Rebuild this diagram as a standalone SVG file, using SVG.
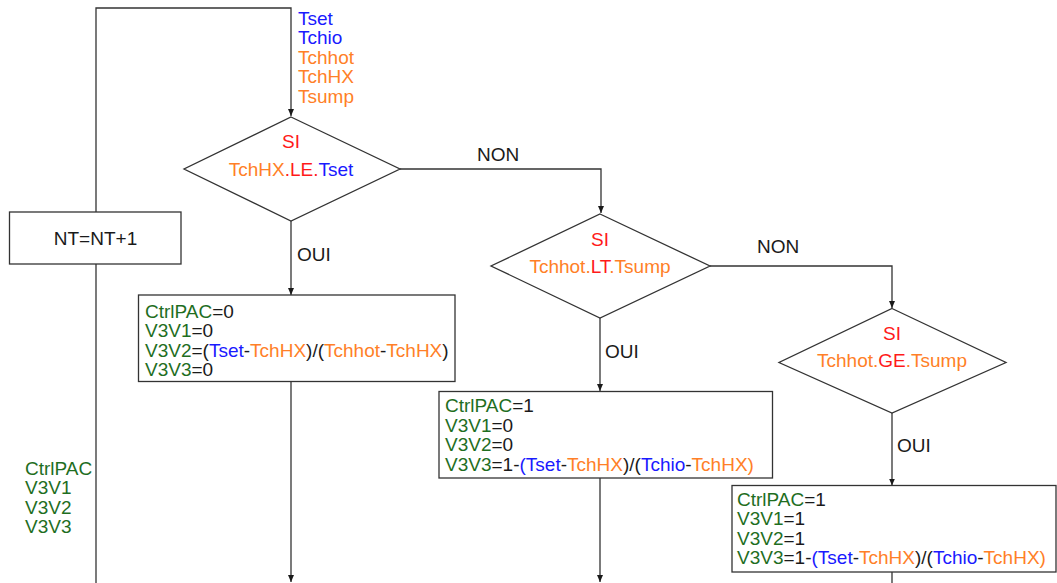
<svg xmlns="http://www.w3.org/2000/svg" width="1057" height="583" viewBox="0 0 1057 583">
<style>
text{font-family:"Liberation Sans",Arial,sans-serif;font-size:19px;fill:#1a1a1a}
.b{fill:#1a1aff}.o{fill:#ff7f27}.r{fill:#ff1a1a}.g{fill:#1f6e1f}.k{fill:#1a1a1a}
.shape{fill:#fff;stroke:#333;stroke-width:1.3}
.c{fill:none;stroke:#333;stroke-width:1.3}
</style>
<defs>
<marker id="ah" markerUnits="userSpaceOnUse" markerWidth="8" markerHeight="6" refX="7" refY="3" orient="auto"><path d="M0,0 L7,3 L0,6 z" fill="#1a1a1a"/></marker>
</defs>
<rect width="1057" height="583" fill="#fff"/>
<g id="connectors">
<path class="c" d="M96,583 V264"/>
<path class="c" d="M96,212 V8 H291 V116" marker-end="url(#ah)"/>
<path class="c" d="M400,169 H601 V213" marker-end="url(#ah)"/>
<path class="c" d="M291,221 V295" marker-end="url(#ah)"/>
<path class="c" d="M710,266 H892 V308" marker-end="url(#ah)"/>
<path class="c" d="M600,318 V391" marker-end="url(#ah)"/>
<path class="c" d="M892,413 V485.5" marker-end="url(#ah)"/>
<path class="c" d="M291,382 V582" marker-end="url(#ah)"/>
<path class="c" d="M600,478 V582" marker-end="url(#ah)"/>
<path class="c" d="M892,572 V583"/>
<text x="477" y="161" class="k">NON</text>
<text x="757" y="253" class="k">NON</text>
<text x="297" y="261" class="k">OUI</text>
<text x="605" y="358" class="k">OUI</text>
<text x="897" y="452" class="k">OUI</text>
</g>
<g id="inputs">
<text x="298" y="24.5" class="b">Tset</text>
<text x="298" y="44" class="b">Tchio</text>
<text x="298" y="63.5" class="o">Tchhot</text>
<text x="298" y="83" class="o">TchHX</text>
<text x="298" y="102.5" class="o">Tsump</text>
</g>
<g id="d1">
<polygon class="shape" points="291,117 400,169 291,221 184,169"/>
<text x="291" y="148" text-anchor="middle" class="r">SI</text>
<text x="291" y="176" text-anchor="middle"><tspan class="o">TchHX</tspan><tspan class="r">.LE.</tspan><tspan class="b">Tset</tspan></text>
</g>
<g id="d2">
<polygon class="shape" points="600,214 710,266 600,318 491,266"/>
<text x="600" y="246" text-anchor="middle" class="r">SI</text>
<text x="600" y="273" text-anchor="middle"><tspan class="o">Tchhot.</tspan><tspan class="r">LT</tspan><tspan class="o">.Tsump</tspan></text>
</g>
<g id="d3">
<polygon class="shape" points="892,308.5 1006,362.5 892,413 779,362.5"/>
<text x="892" y="340" text-anchor="middle" class="r">SI</text>
<text x="892" y="367" text-anchor="middle"><tspan class="o">Tchhot.</tspan><tspan class="r">GE</tspan><tspan class="o">.Tsump</tspan></text>
</g>
<g id="nt">
<rect class="shape" x="9.5" y="212" width="171.5" height="52"/>
<text x="95.5" y="244.5" text-anchor="middle" class="k">NT=NT+1</text>
</g>
<g id="box1">
<rect class="shape" x="138.5" y="295" width="316.5" height="86.5"/>
<text x="145" y="317.5"><tspan class="g">CtrlPAC</tspan><tspan class="k">=0</tspan></text>
<text x="145" y="337"><tspan class="g">V3V1</tspan><tspan class="k">=0</tspan></text>
<text x="145" y="356.5"><tspan class="g">V3V2</tspan><tspan class="k">=(</tspan><tspan class="b">Tset</tspan><tspan class="k">-</tspan><tspan class="o">TchHX</tspan><tspan class="k">)/(</tspan><tspan class="o">Tchhot</tspan><tspan class="k">-</tspan><tspan class="o">TchHX</tspan><tspan class="k">)</tspan></text>
<text x="145" y="376"><tspan class="g">V3V3</tspan><tspan class="k">=0</tspan></text>
</g>
<g id="box2">
<rect class="shape" x="439" y="391.5" width="333.5" height="86.5"/>
<text x="445" y="412"><tspan class="g">CtrlPAC</tspan><tspan class="k">=1</tspan></text>
<text x="445" y="431.5"><tspan class="g">V3V1</tspan><tspan class="k">=0</tspan></text>
<text x="445" y="451"><tspan class="g">V3V2</tspan><tspan class="k">=0</tspan></text>
<text x="445" y="470.5"><tspan class="g">V3V3</tspan><tspan class="k">=1-</tspan><tspan class="b">(Tset</tspan><tspan class="k">-</tspan><tspan class="o">TchHX</tspan><tspan class="k">)/(</tspan><tspan class="b">Tchio</tspan><tspan class="k">-</tspan><tspan class="o">TchHX)</tspan></text>
</g>
<g id="box3">
<rect class="shape" x="732" y="485.5" width="324" height="86.5"/>
<text x="737" y="505.5"><tspan class="g">CtrlPAC</tspan><tspan class="k">=1</tspan></text>
<text x="737" y="525"><tspan class="g">V3V1</tspan><tspan class="k">=1</tspan></text>
<text x="737" y="544.5"><tspan class="g">V3V2</tspan><tspan class="k">=1</tspan></text>
<text x="737" y="564"><tspan class="g">V3V3</tspan><tspan class="k">=1-</tspan><tspan class="b">(Tset</tspan><tspan class="k">-</tspan><tspan class="o">TchHX</tspan><tspan class="k">)/(</tspan><tspan class="b">Tchio</tspan><tspan class="k">-</tspan><tspan class="o">TchHX)</tspan></text>
</g>
<g id="outputs">
<text x="25" y="475" class="g">CtrlPAC</text>
<text x="25" y="494" class="g">V3V1</text>
<text x="25" y="513.5" class="g">V3V2</text>
<text x="25" y="533" class="g">V3V3</text>
</g>
</svg>
